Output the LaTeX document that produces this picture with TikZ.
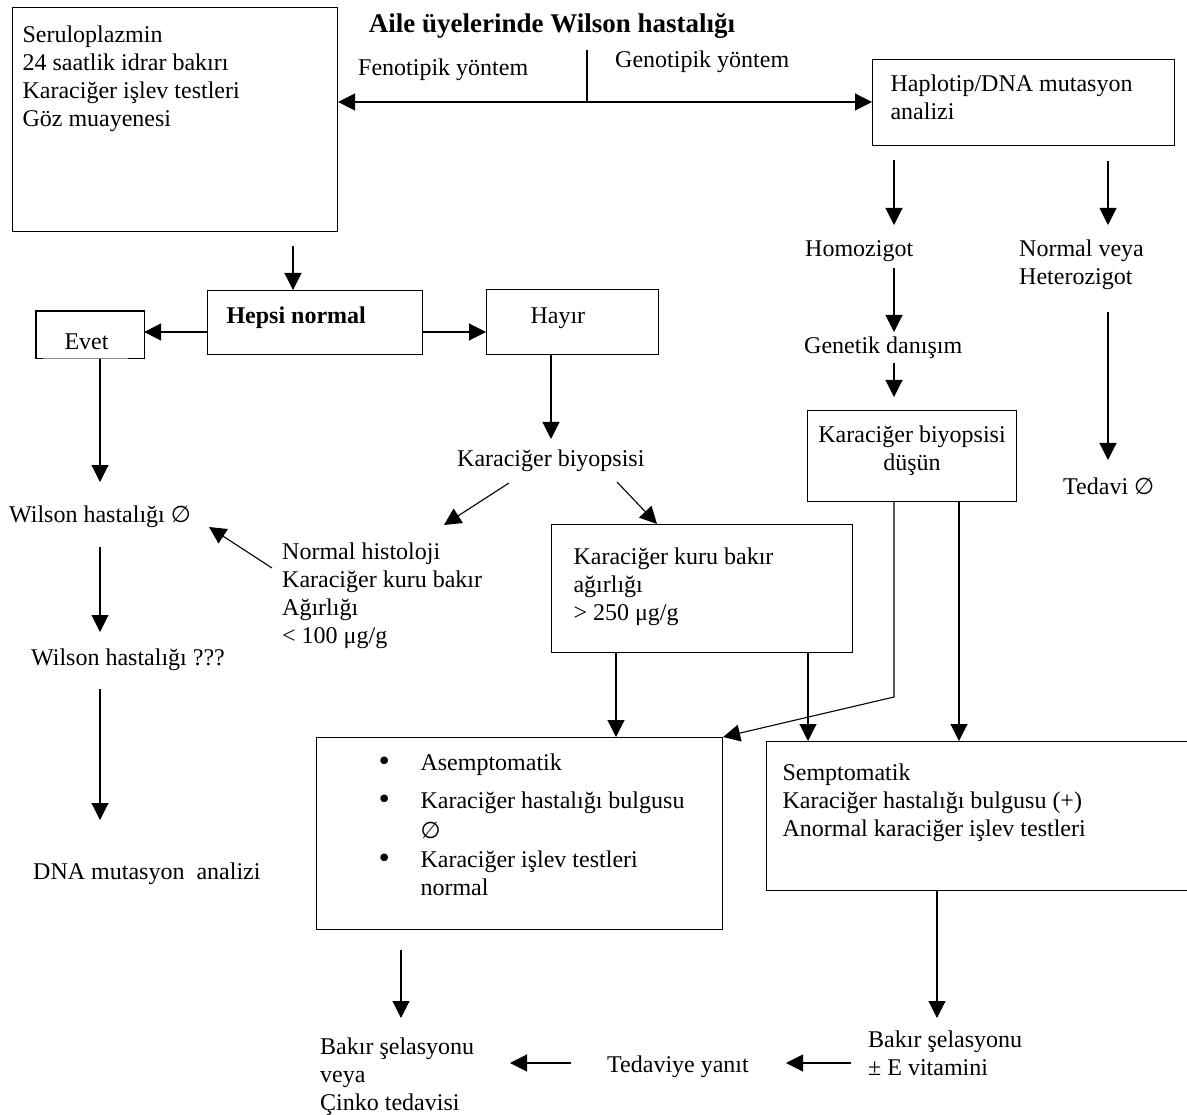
\documentclass[tikz,border=0pt]{standalone}
\usepackage{fontspec}
\setmainfont{Liberation Serif}
\newfontfamily\symf{DejaVu Sans}
\usetikzlibrary{arrows.meta}
\newcommand\tf{\fontsize{24}{28}\selectfont}
\newcommand\ttl{\fontsize{27}{30}\selectfont\bfseries}
\newcommand\es{{\symf\fontsize{23}{28}\selectfont ∅}}
\newcommand\bul{\makebox[44pt][l]{{\symf\fontsize{26}{28}\selectfont •}}}
\newcommand\tl[1]{\begin{tabular}[t]{@{}l@{}}#1\end{tabular}}
\newcommand\pb[4]{\parbox[c][#2][t]{#1}{\raggedright\leftskip=#3\relax\strut #4}}
\tikzset{
  ln/.style={line width=1.1pt},
  arr/.style={ln, -{Triangle[length=17pt,width=17pt]}},
  box/.style={draw, ln, rectangle, inner xsep=0pt, anchor=north west, font=\tf},
  txt/.style={inner sep=0pt, anchor=base west, font=\tf},
}
\begin{document}
\begin{tikzpicture}[x=1pt, y=-1pt]
\useasboundingbox (0,0) rectangle (1187,1115);

% boxes
\node[box, inner ysep=15.4pt] (tests) at (12,7) {\pb{325pt}{193.2pt}{10pt}{Seruloplazmin\\24 saatlik idrar bakırı\\Karaciğer işlev testleri\\Göz muayenesi}};
\node[box, inner ysep=12.4pt] (haplo) at (872,59) {\pb{302pt}{61.2pt}{18pt}{Haplotip/DNA mutasyon\\analizi}};
\node[box, inner ysep=13.4pt] (hepsi) at (207,290) {\pb{215pt}{37.2pt}{19pt}{\bfseries Hepsi normal}};
\node[box, draw=none, inner ysep=18.4pt] (evet) at (36,311) {\pb{107pt}{7.2pt}{28pt}{Evet}};
\draw[ln] ([xshift=7pt]evet.south west) -- (evet.south west) -- (evet.north west) -- (evet.north east) -- (evet.south east) -- ([xshift=-16pt]evet.south east);
\draw[line width=0.5pt, black!45] ([xshift=7pt]evet.south west) -- ([xshift=-16pt]evet.south east);
\node[box, inner ysep=14.4pt] (hayir) at (486,289) {\pb{172pt}{36.2pt}{44pt}{Hayır}};
\node[box, inner ysep=12.4pt] (kbd) at (807,410) {\parbox[c][66.2pt][t]{209pt}{\centering\strut Karaciğer biyopsisi\\düşün}};
\node[box, inner ysep=20.4pt] (kkb) at (551,524) {\pb{301pt}{87.2pt}{22pt}{Karaciğer kuru bakır\\ağırlığı\\> 250 μg/g}};
\node[box, inner ysep=13.4pt] (asem) at (316,737) {\pb{406pt}{165.2pt}{60pt}{\bul Asemptomatik\\[10pt]
\bul Karaciğer hastalığı bulgusu\\[2pt]
\hspace*{44pt}\es\\[1pt]
\bul Karaciğer işlev testleri\\
\hspace*{44pt}normal}};
\node[box, inner ysep=19.4pt] (semp) at (766,741) {\pb{430pt}{110.2pt}{16pt}{Semptomatik\\Karaciğer hastalığı bulgusu (+)\\Anormal karaciğer işlev testleri}};

% free texts
\node[txt, anchor=base, font=\ttl] (title) at (552,33) {Aile üyelerinde Wilson hastalığı};
\node[txt] (feno) at (358,76) {Fenotipik yöntem};
\node[txt] (geno) at (615,68) {Genotipik yöntem};
\node[txt] (homo) at (805,257) {Homozigot};
\node[txt] (normv) at (1019,257) {\tl{Normal veya\\Heterozigot}};
\node[txt] (genet) at (804,354) {Genetik danışım};
\node[txt] (tedavi) at (1063,494) {Tedavi \es};
\node[txt] (wil0) at (9,522) {Wilson hastalığı \es};
\node[txt] (wilq) at (31,665) {Wilson hastalığı ???};
\node[txt] (dna) at (33,879) {DNA mutasyon\ \ analizi};
\node[txt] (kb) at (457,467) {Karaciğer biyopsisi};
\node[txt] (hist) at (282,559) {\tl{Normal histoloji\\Karaciğer kuru bakır\\Ağırlığı\\< 100 μg/g}};
\node[txt] (yanit) at (607,1072) {Tedaviye yanıt};
\node[txt] (bak1) at (320,1054) {\tl{Bakır şelasyonu\\veya\\Çinko tedavisi}};
\node[txt] (bak2) at (868,1047) {\tl{Bakır şelasyonu\\± E vitamini}};

% coordinates for free connector ends
\coordinate (sTop) at (587,50);
\coordinate (sMid) at (587,102);
\coordinate (a1) at (293,246);
\coordinate (ye) at (0,332);
\coordinate (x100) at (100,0);
\coordinate (w0t) at (100,482);
\coordinate (w1s) at (100,547);
\coordinate (w1e) at (100,632);
\coordinate (w2s) at (100,689);
\coordinate (w2e) at (100,820);
\coordinate (x551) at (551,0);
\coordinate (kbt) at (551,439);
\coordinate (d1s) at (509,483);
\coordinate (d1e) at (444,525);
\coordinate (d2s) at (617,482);
\coordinate (x657) at (657,0);
\coordinate (d3s) at (272,568);
\coordinate (d3e) at (209,527);
\coordinate (h1s) at (894,160);
\coordinate (h1e) at (894,225);
\coordinate (h2s) at (1108,161);
\coordinate (h2e) at (1108,225);
\coordinate (h3s) at (894,268);
\coordinate (h3e) at (894,332);
\coordinate (h4s) at (894,363);
\coordinate (h4e) at (894,397);
\coordinate (h5s) at (1108,312);
\coordinate (h5e) at (1108,460);
\coordinate (x894) at (894,0);
\coordinate (bend) at (894,697);
\coordinate (x959) at (959,0);
\coordinate (x616) at (616,0);
\coordinate (x808) at (808,0);
\coordinate (b1s) at (401,950);
\coordinate (b1e) at (401,1018);
\coordinate (x937) at (937,0);
\coordinate (b2e) at (937,1018);
\coordinate (l1s) at (851,1063);
\coordinate (l1e) at (786,1063);
\coordinate (l2s) at (571,1063);
\coordinate (l2e) at (510,1063);

% connectors
\draw[ln] (sTop) -- (sMid);
\draw[arr] (sMid) -- (tests.east |- sMid);
\draw[arr] (sMid) -- (haplo.west |- sMid);
\draw[arr] (a1) -- (hepsi.north -| a1);
\draw[arr] (hepsi.west |- ye) -- (evet.east |- ye);
\draw[arr] (hepsi.east |- ye) -- (hayir.west |- ye);
\draw[arr] (evet.south -| x100) -- (w0t);
\draw[arr] (w1s) -- (w1e);
\draw[arr] (w2s) -- (w2e);
\draw[arr] (hayir.south -| x551) -- (kbt);
\draw[arr] (d1s) -- (d1e);
\draw[arr] (d2s) -- (kkb.north -| x657);
\draw[arr] (d3s) -- (d3e);
\draw[arr] (h1s) -- (h1e);
\draw[arr] (h2s) -- (h2e);
\draw[arr] (h3s) -- (h3e);
\draw[arr] (h4s) -- (h4e);
\draw[arr] (h5s) -- (h5e);
\draw[arr] (kbd.south -| x894) -- (bend) -- (asem.north east);
\draw[arr] (kbd.south -| x959) -- (semp.north -| x959);
\draw[arr] (kkb.south -| x616) -- (asem.north -| x616);
\draw[arr] (kkb.south -| x808) -- (semp.north -| x808);
\draw[arr] (b1s) -- (b1e);
\draw[arr] (semp.south -| x937) -- (b2e);
\draw[arr] (l1s) -- (l1e);
\draw[arr] (l2s) -- (l2e);
\end{tikzpicture}
\end{document}
